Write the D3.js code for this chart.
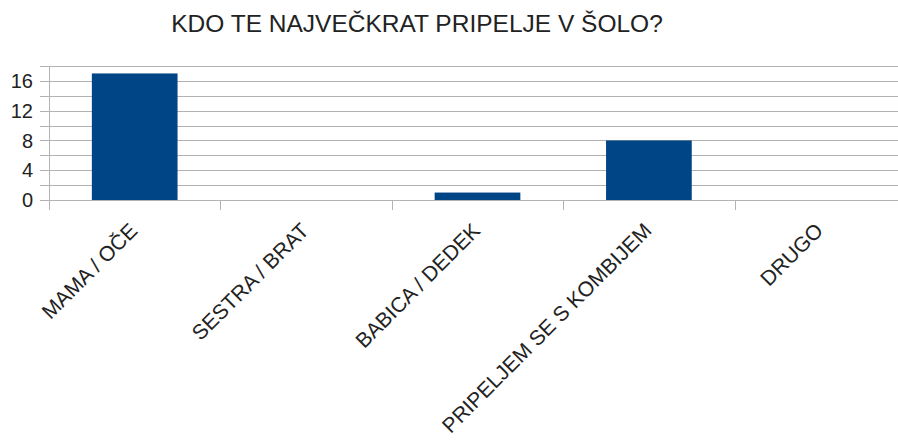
<!DOCTYPE html>
<meta charset="utf-8">
<style>
body { margin: 0; background: #fff; overflow: hidden; }
text { font-family: "Liberation Sans", Arial, sans-serif; fill: #222; }
.grid line { stroke: #b3b3b3; stroke-width: 1; }
</style>
<body>
<script src="https://d3js.org/d3.v7.min.js"></script>
<script>

var categories = ["MAMA / OČE", "SESTRA / BRAT", "BABICA / DEDEK", "PRIPELJEM SE S KOMBIJEM", "DRUGO"];
var values = [17, 0, 1, 8, 0];
var yTicks = [0, 4, 8, 12, 16];
var gridTicks = [0, 2, 4, 6, 8, 10, 12, 14, 16, 18];
var title = "KDO TE NAJVEČKRAT PRIPELJE V ŠOLO?";

var width = 898, height = 441;

var svg = d3.select("body").append("svg")
    .attr("width", width)
    .attr("height", height);

// plot runs past the right edge, like in the original
var x = d3.scaleBand().domain(categories).range([49, 906]).paddingInner(0.5).paddingOuter(0.25);
var y = d3.scaleLinear().domain([0, 18]).range([200, 66]);

svg.append("text")
    .attr("x", 417)
    .attr("y", 32)
    .attr("text-anchor", "middle")
    .style("font-size", "24.5px")
    .text(title);

// grid lines
svg.append("g").attr("class", "grid")
  .selectAll("line")
  .data(gridTicks)
  .enter().append("line")
    .attr("x1", 40)
    .attr("x2", 906)
    .attr("y1", function(d) { return Math.round(y(d)) + 0.5; })
    .attr("y2", function(d) { return Math.round(y(d)) + 0.5; });

// y axis line
svg.append("line")
    .attr("x1", 49.5).attr("x2", 49.5)
    .attr("y1", 66).attr("y2", 210)
    .style("stroke", "#b3b3b3");

// x ticks at band boundaries
svg.append("g").attr("class", "grid")
  .selectAll("line")
  .data(categories)
  .enter().append("line")
    .attr("x1", function(d) { return Math.round(x(d) - x.bandwidth() / 2) + 0.5; })
    .attr("x2", function(d) { return Math.round(x(d) - x.bandwidth() / 2) + 0.5; })
    .attr("y1", 200)
    .attr("y2", 210);

// y labels
svg.append("g")
  .selectAll("text")
  .data(yTicks)
  .enter().append("text")
    .attr("x", 33)
    .attr("y", function(d) { return y(d); })
    .attr("dy", "0.36em")
    .attr("text-anchor", "end")
    .style("font-size", "20px")
    .text(function(d) { return d; });

// bars
svg.append("g")
  .selectAll("rect")
  .data(values)
  .enter().append("rect")
    .attr("x", function(d, i) { return x(categories[i]); })
    .attr("width", x.bandwidth())
    .attr("y", function(d) { return y(d); })
    .attr("height", function(d) { return y(0) - y(d); })
    .style("fill", "#004586");

// x labels, rotated
svg.append("g")
  .selectAll("text")
  .data(categories)
  .enter().append("text")
    .attr("transform", function(d) {
      return "translate(" + (x(d) + x.bandwidth() / 2 + 4) + ",232) rotate(-45)";
    })
    .attr("text-anchor", "end")
    .style("font-size", "21px")
    .text(function(d) { return d; });

</script>
</body>
